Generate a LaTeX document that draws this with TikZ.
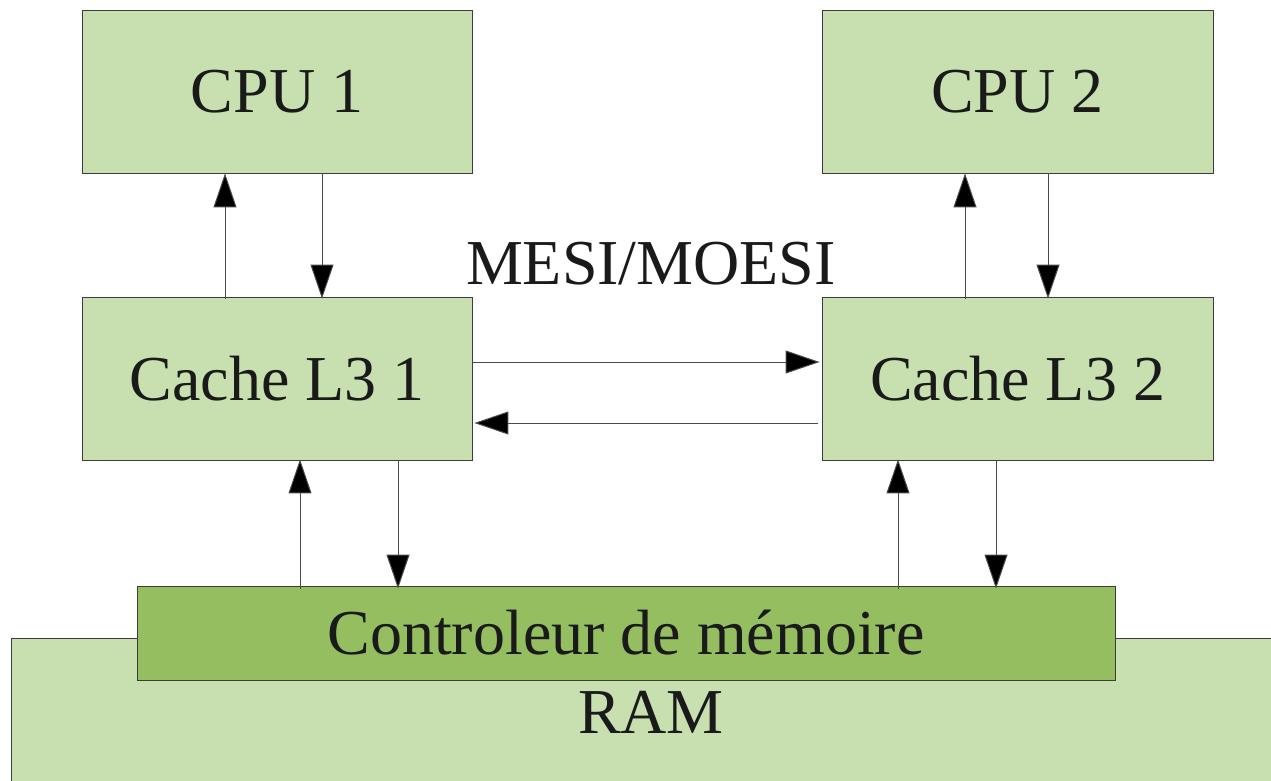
\documentclass[tikz,border=0pt]{standalone}
\usepackage{fontspec}
\setmainfont{Liberation Serif}
\usetikzlibrary{arrows.meta}
\definecolor{lightg}{RGB}{200,223,176}
\definecolor{darkg}{RGB}{149,190,96}
\definecolor{txt}{RGB}{26,26,26}
\definecolor{edge}{RGB}{60,60,60}
\begin{document}
\begin{tikzpicture}[x=1pt,y=-1pt,
  box/.style={draw=edge, line width=0.8pt, fill=lightg, text=txt, inner sep=0pt,
    font=\fontsize{64}{72}\selectfont},
  arr/.style={draw=edge!80!gray, line width=1pt, -{Triangle[length=34pt,width=23pt,fill=black]}}]
\useasboundingbox (0,0) rectangle (1271,780);
\fill[white] (0,0) rectangle (1271,780);
\node[box, minimum width=390pt, minimum height=163pt] (cpu1) at (277,91.5) {CPU 1};
\node[box, minimum width=391pt, minimum height=163pt] (cpu2) at (1017.5,91.5) {CPU 2};
\node[box, minimum width=390pt, minimum height=163pt] (c1) at (277,378.5) {Cache L3 1};
\node[box, minimum width=391pt, minimum height=163pt] (c2) at (1017.5,378.5) {Cache L3 2};
\node[text=txt, font=\fontsize{64}{72}\selectfont, inner sep=0pt] (mesi) at (651,264) {MESI/MOESI};
\node[box, anchor=north west, minimum width=1300pt, minimum height=200pt] (ram) at (11,638) {};
\node[text=txt, font=\fontsize{64}{72}\selectfont, inner sep=0pt] (ramlabel) at (651,712) {RAM};
\node[box, fill=darkg, minimum width=978pt, minimum height=94pt] (ctrl) at (626,633) {Controleur de mémoire};
% column coordinates
\coordinate (xa) at (225,0);
\coordinate (xb) at (322,0);
\coordinate (xc) at (965,0);
\coordinate (xd) at (1048,0);
\coordinate (xe) at (300,0);
\coordinate (xf) at (398,0);
\coordinate (xg) at (898,0);
\coordinate (xh) at (996,0);
\coordinate (ya) at (0,362);
\coordinate (yb) at (0,423);
% CPU <-> cache
\draw[arr] ([yshift=-2pt]c1.north -| xa) -- (cpu1.south -| xa);
\draw[arr] (cpu1.south -| xb) -- ([yshift=-2pt]c1.north -| xb);
\draw[arr] ([yshift=-2pt]c2.north -| xc) -- (cpu2.south -| xc);
\draw[arr] (cpu2.south -| xd) -- ([yshift=-2pt]c2.north -| xd);
% cache <-> cache
\draw[arr] (c1.east |- ya) -- ([xshift=-2pt]c2.west |- ya);
\draw[arr] ([xshift=-4pt]c2.west |- yb) -- ([xshift=2pt]c1.east |- yb);
% cache <-> controller
\draw[arr] ([yshift=-3pt]ctrl.north -| xe) -- ([yshift=1pt]c1.south -| xe);
\draw[arr] (c1.south -| xf) -- ([yshift=-3pt]ctrl.north -| xf);
\draw[arr] ([yshift=-3pt]ctrl.north -| xg) -- ([yshift=1pt]c2.south -| xg);
\draw[arr] (c2.south -| xh) -- ([yshift=-3pt]ctrl.north -| xh);
\end{tikzpicture}
\end{document}
